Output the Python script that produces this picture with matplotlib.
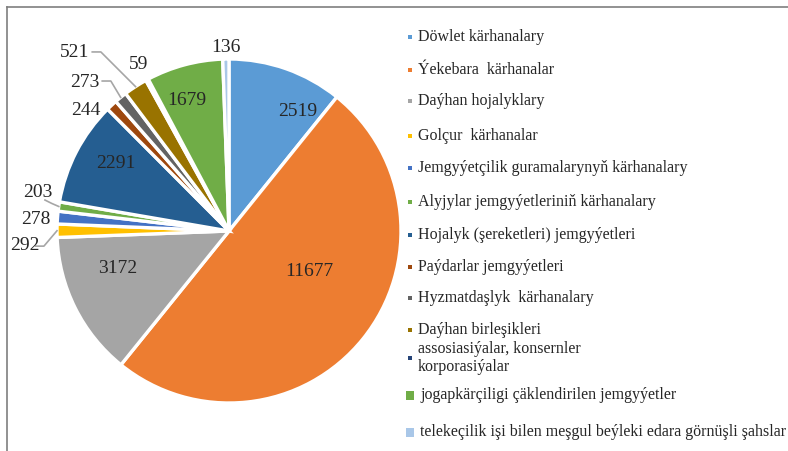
import matplotlib
matplotlib.use("Agg")
import matplotlib.pyplot as plt
import numpy as np
from matplotlib.lines import Line2D
from matplotlib.patches import Rectangle

# data
categories = [
    "Döwlet kärhanalary",
    "Ýekebara  kärhanalar",
    "Daýhan hojalyklary",
    "Golçur  kärhanalar",
    "Jemgyýetçilik guramalarynyň kärhanalary",
    "Alyjylar jemgyýetleriniň kärhanalary",
    "Hojalyk (şereketleri) jemgyýetleri",
    "Paýdarlar jemgyýetleri",
    "Hyzmatdaşlyk  kärhanalary",
    "Daýhan birleşikleri",
    "assosiasiýalar, konsernler\nkorporasiýalar",
    "jogapkärçiligi çäklendirilen jemgyýetler",
    "telekeçilik işi bilen meşgul beýleki edara görnüşli şahslar",
]
values = [2519, 11677, 3172, 292, 278, 203, 2291, 244, 273, 521, 59, 1679, 136]
colors = ["#5B9BD5", "#ED7D31", "#A5A5A5", "#FFC000", "#4472C4", "#70AD47",
          "#255E91", "#9E480E", "#636363", "#997300", "#264478", "#70AD47",
          "#A9C7E8"]

# label text positions (pie data coords, radius = 1)
label_pos = [(0.40, 0.70), (0.47, -0.23), (-0.645, -0.21), (-1.186, -0.076),
             (-1.122, 0.07), (-1.11, 0.227), (-0.657, 0.401), (-0.831, 0.709),
             (-0.837, 0.872), (-0.895, 1.041), (-0.523, 0.971), (-0.244, 0.767),
             (-0.017, 1.07)]
# leader lines: (start, bend) relative to the label position, end on the wedge edge
leaders = {
    3: ((0.062, -0.012), (0.11, -0.012)),
    5: ((0.04, -0.047), (0.08, -0.067)),
    8: ((0.10, 0.0), (0.15, 0.0)),
    9: ((0.10, 0.0), (0.15, 0.0)),
}

plt.rcParams['font.family'] = ['Liberation Serif', 'DejaVu Serif']

fig = plt.figure(figsize=(7.88, 4.52), dpi=100)
W, H = 788, 452
cx, cy, r = 229, 232, 172
ax = fig.add_axes([(cx - r) / W, (H - cy - r) / H, 2 * r / W, 2 * r / H])

wedges, _ = ax.pie(values, colors=colors, startangle=90, counterclock=False,
                   radius=1, wedgeprops=dict(edgecolor="white", linewidth=2.4))
ax.set_xlim(-1, 1)
ax.set_ylim(-1, 1)
ax.set_aspect("equal")
ax.axis("off")

for i, (w, v) in enumerate(zip(wedges, values)):
    tx, ty = label_pos[i]
    ax.text(tx, ty, str(v), ha="center", va="center", fontsize=14,
            color="#262626", clip_on=False)
    if i in leaders:
        mid = np.deg2rad((w.theta1 + w.theta2) / 2)
        (sx, sy), (bx, by) = leaders[i]
        ax.plot([tx + sx, tx + bx, np.cos(mid)], [ty + sy, ty + by, np.sin(mid)],
                color="#A6A6A6", lw=1.2, clip_on=False)

# legend
leg_y = [37, 70, 101, 136, 168, 202, 235, 267, 298, 330, 358, 395, 432]
for i, (lab, c) in enumerate(zip(categories, colors)):
    y = leg_y[i]
    size = 4 if i < 11 else 9
    fig.patches.append(Rectangle(((410 - size / 2) / W, (H - y - 1 - size / 2) / H),
                                 size / W, size / H, transform=fig.transFigure,
                                 facecolor=c, edgecolor="none"))
    fig.text((418 if i < 11 else 420) / W, (H - y) / H, lab, ha="left",
             va="center", fontsize=11.5, color="#262626", linespacing=1.1)

# frame
fig.add_artist(Line2D([7 / W, 7 / W], [0, (H - 8) / H], color="#7F7F7F", lw=1.2))
fig.add_artist(Line2D([7 / W, 1], [(H - 8) / H, (H - 8) / H], color="#7F7F7F", lw=1.2))

fig.savefig("out.png", dpi=100)
